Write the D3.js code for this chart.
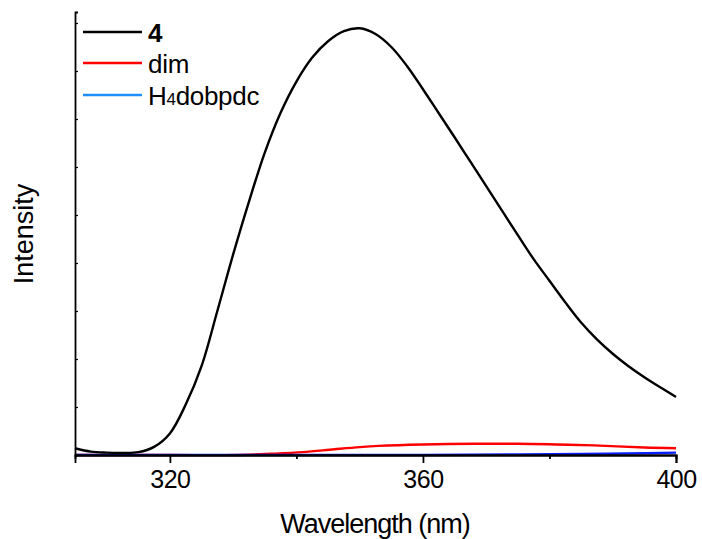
<!DOCTYPE html>
<html>
<head>
<meta charset="utf-8">
<script src="https://cdn.jsdelivr.net/npm/d3@7"></script>
<style>
  body { margin: 0; background: #fff; }
  text { font-family: "Liberation Sans", Arial, sans-serif; fill: #000; }
</style>
</head>
<body>
<svg id="chart" width="702" height="539"></svg>
<script>
// sample 4
var wl4 = [305, 307.5, 310, 312.5, 315, 317.5, 320, 322.5, 325, 327.5, 330, 332.5, 335,
           337.5, 340, 342.5, 345, 347.5, 350, 352.5, 355, 357.5, 360, 362.5, 365,
           367.5, 370, 372.5, 375, 377.5, 380, 382.5, 385, 387.5, 390, 392.5, 395,
           397.5, 400];
var int4 = [0.14, 0.07, 0.05, 0.045, 0.06, 0.17, 0.45, 1.05, 1.85, 3.0, 4.18, 5.28, 6.30,
            7.13, 7.78, 8.28, 8.62, 8.83, 8.89, 8.77, 8.50, 8.10, 7.62, 7.12, 6.62,
            6.11, 5.60, 5.09, 4.58, 4.08, 3.63, 3.18, 2.76, 2.41, 2.11, 1.85, 1.62,
            1.41, 1.21];

// dim
var wlDim = [305, 320, 331, 336, 341, 346, 350, 353, 360, 368, 375, 381, 387, 395, 400];
var intDim = [0.0, 0.0, 0.0, 0.025, 0.06, 0.12, 0.165, 0.19, 0.22, 0.235, 0.235, 0.22, 0.20, 0.155, 0.14];

// H4dobpdc
var wlLig = [305, 330, 360, 375, 385, 392, 400];
var intLig = [0.0, 0.0, 0.0, 0.01, 0.02, 0.03, 0.05];

var xMajor = [320, 360, 400];
var xMinor = [340, 380];
var yTicks = [1, 2, 3, 4, 5, 6, 7, 8, 9];

var series = [
  {name: "4", wl: wl4, val: int4, color: "#000000", key: "#000000"},
  {name: "dim", wl: wlDim, val: intDim, color: "#ff0000", key: "#ff0000"},
  {name: "H4dobpdc", wl: wlLig, val: intLig, color: "#0a1eff", key: "#1e8fff"}
];

var svg = d3.select("#chart");
var padL = 75, padR = 676, padT = 12, padB = 455;

var x = d3.scaleLinear().domain([305, 400]).range([padL, padR]);
var y = d3.scaleLinear().domain([0, (padB - padT) / 48]).range([padB, padT]);

var line = d3.line()
  .x(function (d) { return x(d[0]); })
  .y(function (d) { return y(d[1]); })
  .curve(d3.curveCatmullRom);

// draw order: dim, ligand, then sample 4 on top
[series[1], series[2], series[0]].forEach(function (s) {
  svg.append("path")
    .datum(d3.zip(s.wl, s.val))
    .attr("d", line)
    .attr("fill", "none")
    .attr("stroke", s.color)
    .attr("stroke-width", 2.4);
});

// x axis
var xAxis = svg.append("g").attr("transform", "translate(0," + padB + ")");
xAxis.call(d3.axisBottom(x).tickValues(xMajor).tickSize(8).tickPadding(7).tickFormat(d3.format("d")));
xAxis.append("g").call(d3.axisBottom(x).tickValues(xMinor).tickSize(4).tickFormat(""));
xAxis.selectAll("path").attr("stroke", "#000").attr("stroke-width", 1.8);
xAxis.selectAll("line").attr("stroke", "#000").attr("stroke-width", 1.8);
xAxis.selectAll("text")
  .style("font-size", "25px")
  .style("letter-spacing", "-0.5px")
  .style("font-family", "'Liberation Sans', Arial, sans-serif");

// y axis, ticks inward, no labels
var yAxis = svg.append("g").attr("transform", "translate(" + padL + ",0)");
yAxis.call(d3.axisLeft(y).tickValues(yTicks).tickSize(-3).tickFormat(""));
yAxis.selectAll("path").attr("stroke", "#000").attr("stroke-width", 1.8);
yAxis.selectAll("line").attr("stroke", "#000").attr("stroke-width", 1.2);

// axis titles
svg.append("text")
  .attr("x", 375)
  .attr("y", 533)
  .attr("text-anchor", "middle")
  .style("font-size", "27px")
  .style("letter-spacing", "-1px")
  .text("Wavelength (nm)");

svg.append("text")
  .attr("transform", "translate(33,234) rotate(-90)")
  .attr("text-anchor", "middle")
  .style("font-size", "27px")
  .text("Intensity");

// legend
var legendY = [32, 63, 95];
series.forEach(function (s, i) {
  var g = svg.append("g").attr("transform", "translate(0," + legendY[i] + ")");
  g.append("line")
    .attr("x1", 83).attr("x2", 142)
    .attr("stroke", s.key).attr("stroke-width", 2.4);
  var t = g.append("text").attr("x", 148).attr("y", 9.5)
    .style("font-size", "26px").style("letter-spacing", "-0.3px");
  if (s.name === "4") {
    t.style("font-weight", "bold").text("4");
  } else if (s.name === "H4dobpdc") {
    t.append("tspan").text("H");
    t.append("tspan").style("font-size", "17px").text("4");
    t.append("tspan").text("dobpdc");
  } else {
    t.text(s.name);
  }
});
</script>
</body>
</html>
